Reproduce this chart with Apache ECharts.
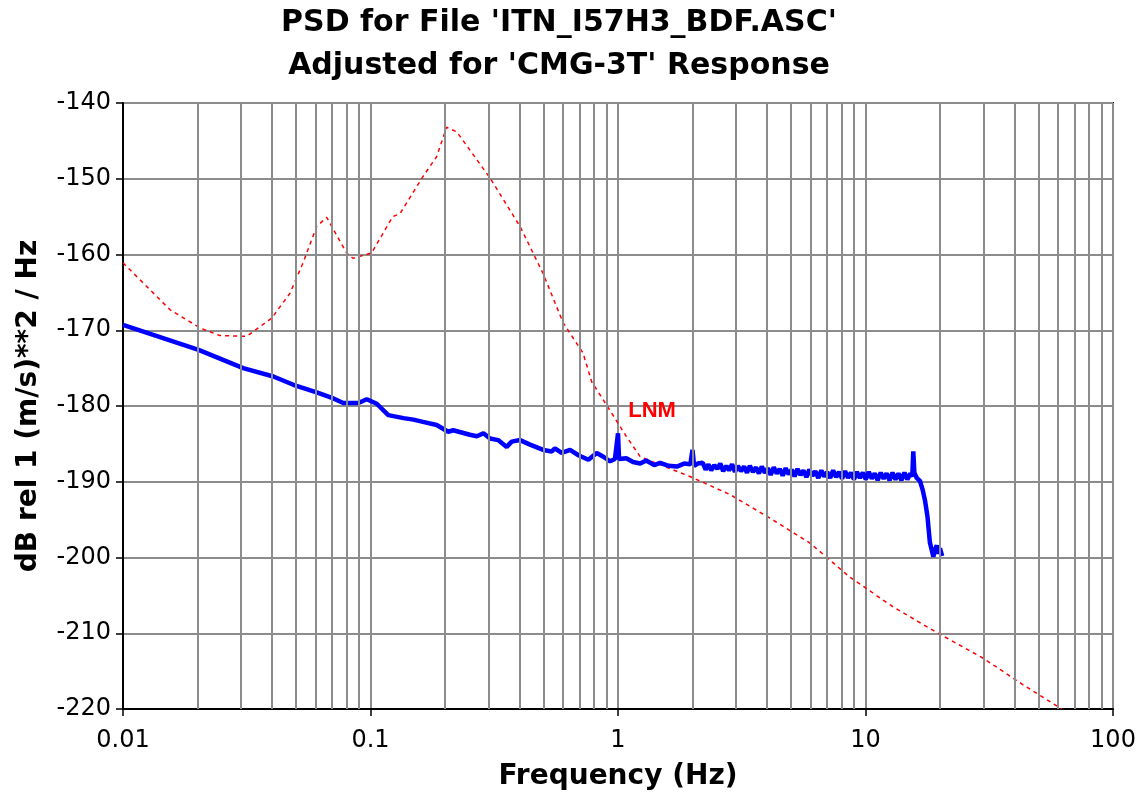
<!DOCTYPE html>
<html>
<head>
<meta charset="utf-8">
<script src="https://cdn.jsdelivr.net/npm/echarts@6/dist/echarts.min.js"></script>
<style>
  html, body { margin: 0; padding: 0; background: #fff; }
  #psd_chart { width: 1143px; height: 801px; }
</style>
</head>
<body>
<div id="psd_chart"></div>
<script>
// measured PSD, adjusted for CMG-3T response
var psdFreq = [0.01, 0.0202, 0.0306, 0.0405, 0.0488, 0.0606, 0.0708, 0.0776, 0.0893, 0.0966, 0.106,
  0.118, 0.136, 0.149, 0.163, 0.185, 0.206, 0.216, 0.252, 0.269, 0.286, 0.304, 0.328, 0.355, 0.372,
  0.402, 0.441, 0.499, 0.54, 0.556, 0.592, 0.64, 0.692, 0.759, 0.82, 0.873, 0.929, 0.972, 0.99, 1.0,
  1.01, 1.08, 1.15, 1.23, 1.3, 1.4, 1.48, 1.6, 1.73, 1.85, 1.96, 2.0, 2.03, 2.1,
  2.2, 2.26, 2.32, 2.38, 2.45, 2.52, 2.59, 2.66, 2.74, 2.81, 2.89, 2.97, 3.05, 3.14, 3.23, 3.32,
  3.41, 3.51, 3.61, 3.71, 3.81, 3.92, 4.03, 4.14, 4.26, 4.38, 4.5, 4.63, 4.76, 4.89, 5.03, 5.17,
  5.31, 5.46, 5.61, 5.77, 5.93, 6.1, 6.27, 6.45, 6.63, 6.81, 7.0, 7.2, 7.4, 7.61, 7.82, 8.04,
  8.27, 8.5, 8.74, 8.98, 9.23, 9.49, 9.76, 10.03, 10.31, 10.6, 10.9, 11.2, 11.52, 11.84, 12.17,
  12.51, 12.86, 13.22, 13.59, 13.97, 14.36, 14.76, 15.17, 15.45, 15.6, 15.75, 16.1,
  16.6, 17.0, 17.4, 17.8, 18.2, 18.8, 19.1, 19.4, 19.7, 20.0, 20.4];
var psdDb = [-169.3, -172.6, -175.0, -176.1, -177.2, -178.2, -179.0, -179.6, -179.6, -179.1, -179.7,
  -181.2, -181.6, -181.8, -182.1, -182.5, -183.4, -183.2, -183.8, -184.0, -183.6, -184.3, -184.5, -185.4, -184.7,
  -184.5, -185.1, -185.8, -186.0, -185.6, -186.2, -185.8, -186.5, -187.1, -186.2, -186.7, -187.3, -187.0, -187.2, -183.6,
  -187.0, -186.9, -187.4, -187.6, -187.2, -187.8, -187.5, -187.9, -188.0, -187.6, -187.7, -185.8, -187.9, -187.6,
  -187.5, -188.4, -187.7, -188.5, -187.8, -188.3, -187.6, -188.6, -187.9, -188.5, -187.7, -188.7, -187.9, -188.6, -188.0, -188.8,
  -187.9, -188.7, -188.1, -188.9, -188.0, -188.8, -188.2, -189.1, -188.1, -188.9, -188.3, -189.2, -188.2, -189.0, -188.4, -189.3,
  -188.3, -189.1, -188.5, -189.4, -188.4, -189.2, -188.6, -189.5, -188.5, -189.3, -188.7, -189.5, -188.5, -189.4, -188.7, -189.6,
  -188.6, -189.5, -188.8, -189.7, -188.7, -189.5, -188.8, -189.7, -188.7, -189.6, -188.9, -189.8, -188.8, -189.6, -188.9,
  -189.8, -188.8, -189.7, -188.9, -189.8, -188.8, -189.7, -188.9, -189.3, -186.0, -188.8, -189.5,
  -189.9, -191.0, -192.5, -194.6, -198.0, -199.9, -199.0, -198.4, -199.5, -198.8, -199.8];

// Peterson low noise model
var lnmFreq = [0.01, 0.0155, 0.0205, 0.0246, 0.0316, 0.0399, 0.0473, 0.0534, 0.0606, 0.0665, 0.0801,
  0.085, 0.101, 0.123, 0.1316, 0.163, 0.185, 0.203, 0.223, 0.304, 0.402, 0.498, 0.6, 0.722, 0.783,
  0.9, 1.08, 1.23, 1.95, 2.84, 4.11, 5.97, 8.65, 12.9, 19.4, 29.9, 43.3, 62];
var lnmDb = [-161.1, -167.3, -169.7, -170.7, -170.8, -168.4, -165.1, -161.1, -156.3, -155.1, -159.8,
  -160.5, -159.8, -155.0, -154.6, -149.7, -147.1, -143.2, -143.8, -149.9, -156.3, -162.5, -169.0, -173.0, -176.8,
  -179.9, -184.0, -186.7, -189.3, -191.7, -194.8, -198.1, -202.6, -206.5, -209.9, -213.3, -216.8, -220.0];

var decades = [0.01, 0.1, 1, 10];
var minorSteps = [2, 3, 4, 5, 6, 7, 8, 9];

var minorLines = [];
decades.forEach(function (d) {
  minorSteps.forEach(function (m) {
    minorLines.push({ xAxis: +(d * m).toPrecision(3) });
  });
});

function pairs(xs, ys) {
  return xs.map(function (x, i) { return [x, ys[i]]; });
}

var chart = echarts.init(document.getElementById('psd_chart'));
var option = {
  backgroundColor: '#fff',
  animation: false,
  graphic: [
    {
      type: 'text', x: 559, y: 23,
      style: {
        text: "PSD for File 'ITN_I57H3_BDF.ASC'",
        textAlign: 'center', textVerticalAlign: 'middle',
        font: 'bold 30px "DejaVu Sans"', fill: '#000'
      }
    },
    {
      type: 'text', x: 559, y: 66,
      style: {
        text: "Adjusted for 'CMG-3T' Response",
        textAlign: 'center', textVerticalAlign: 'middle',
        font: 'bold 30px "DejaVu Sans"', fill: '#000'
      }
    }
  ],
  grid: {
    left: 123, right: 30, top: 103, bottom: 92,
    show: true, borderColor: '#000', borderWidth: 2
  },
  xAxis: {
    type: 'log', logBase: 10, min: 0.01, max: 100,
    name: 'Frequency (Hz)', nameLocation: 'middle', nameGap: 54,
    nameTextStyle: { fontFamily: 'DejaVu Sans', fontWeight: 'bold', fontSize: 28, color: '#000' },
    axisLine: { lineStyle: { color: '#000', width: 2 } },
    axisTick: { show: true, length: 7, lineStyle: { color: '#000', width: 1.5 } },
    axisLabel: { margin: 20, fontFamily: 'DejaVu Sans', fontSize: 24, color: '#000',
      formatter: function (v) { return String(+v.toPrecision(3)); } },
    splitLine: { show: true, lineStyle: { color: '#8c8c8c', width: 2 } }
  },
  yAxis: {
    type: 'value', min: -220, max: -140, interval: 10,
    name: 'dB rel 1 (m/s)**2 / Hz', nameLocation: 'middle', nameGap: 80, nameRotate: 90,
    nameTextStyle: { fontFamily: 'DejaVu Sans', fontWeight: 'bold', fontSize: 28, color: '#000' },
    axisLine: { show: true, lineStyle: { color: '#000', width: 2 } },
    axisTick: { show: true, length: 7, lineStyle: { color: '#000', width: 1.5 } },
    axisLabel: { margin: 12, fontFamily: 'DejaVu Sans', fontSize: 24, color: '#000' },
    splitLine: { show: true, lineStyle: { color: '#8c8c8c', width: 2 } }
  },
  series: [
    {
      name: 'grid', type: 'line', data: [], z: 1, silent: true,
      markLine: {
        silent: true, symbol: ['none', 'none'], animation: false,
        label: { show: false },
        lineStyle: { color: '#8c8c8c', width: 2, type: 'solid' },
        emphasis: { disabled: true },
        data: minorLines
      }
    },
    {
      name: 'LNM', type: 'line', z: 3, showSymbol: false, smooth: false,
      data: pairs(lnmFreq, lnmDb),
      lineStyle: { color: '#ff0000', width: 1.5, type: [4, 4] },
      markPoint: {
        symbolSize: 0,
        data: [{ coord: [1.1, -180.7], value: 'LNM' }],
        label: {
          show: true, position: 'right', distance: 0, formatter: 'LNM',
          fontFamily: 'Liberation Sans', fontWeight: 'bold', fontSize: 22, color: '#ff0000'
        }
      }
    },
    {
      name: 'PSD', type: 'line', z: 4, showSymbol: false, smooth: false,
      data: pairs(psdFreq, psdDb),
      lineStyle: { color: '#0000ff', width: 4.5 }
    }
  ]
};
chart.setOption(option);
</script>
</body>
</html>
